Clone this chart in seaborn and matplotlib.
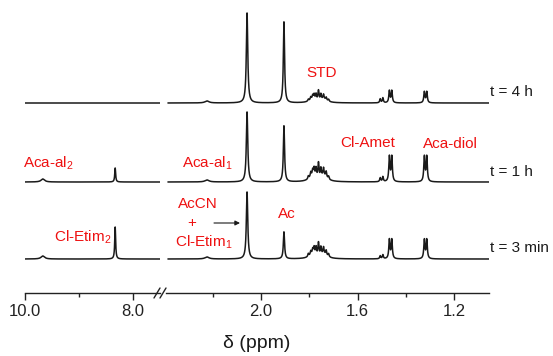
import numpy as np
import pandas as pd
import seaborn as sns
import matplotlib.pyplot as plt
from matplotlib.lines import Line2D

sns.set_style("white")
plt.rcParams['font.family'] = ['Liberation Sans', 'DejaVu Sans']
plt.rcParams['mathtext.default'] = 'regular'

# ---------------- data ----------------
trace_labels = ["t = 3 min", "t = 1 h", "t = 4 h"]
trace_baselines = [34, 111, 190]

# right segment (2.4 - 1.05 ppm): peak positions, half widths
right_ppm = [2.224, 2.058, 1.905,
             1.785, 1.740,
             1.804, 1.794, 1.786, 1.780, 1.772, 1.762, 1.752, 1.741, 1.730, 1.720,
             1.506, 1.495, 1.468, 1.458, 1.323, 1.313]
right_hwhm = [0.010, 0.0035, 0.003,
              0.018, 0.018,
              0.0025, 0.0025, 0.0025, 0.0025, 0.0025, 0.0025, 0.0025, 0.0025, 0.0025, 0.0025,
              0.0025, 0.0025, 0.0028, 0.0028, 0.0028, 0.0028]
right_heights_3min = [2, 67, 27, 4, 4, 3, 4, 5, 7, 8, 13, 8, 7, 5, 3, 3, 4, 19, 19, 19, 19]
right_heights_1h = [2, 70, 56, 5, 5, 3, 5, 6, 8, 9, 15, 9, 8, 6, 3, 4, 5, 25, 25, 25, 25]
right_heights_4h = [2, 90, 81, 3, 3, 2, 3, 4, 5, 6, 10, 6, 5, 3, 2, 4, 5, 12, 12, 11, 11]

# left segment (10.0 - 7.5 ppm)
left_ppm = [9.67, 8.33]
left_hwhm = [0.04, 0.010]
left_heights_3min = [3, 32]
left_heights_1h = [3, 14]
left_heights_4h = [0, 0]

left_ticks = [10.0, 8.0]
left_tick_labels = ["10.0", "8.0"]
left_minor = [9.0]
right_ticks = [2.0, 1.6, 1.2]
right_tick_labels = ["2.0", "1.6", "1.2"]
right_minor = [2.2, 1.8, 1.4]

right_heights = [right_heights_3min, right_heights_1h, right_heights_4h]
left_heights = [left_heights_3min, left_heights_1h, left_heights_4h]


def build(xgrid, ppm, hwhm, heights_list):
    frames = []
    for lab, base, hs in zip(trace_labels, trace_baselines, heights_list):
        y = np.full_like(xgrid, base, dtype=float)
        for p, w, h in zip(ppm, hwhm, hs):
            y += h / (1.0 + ((xgrid - p) / w) ** 2)
        frames.append(pd.DataFrame({"ppm": xgrid, "y": y, "trace": lab}))
    return pd.concat(frames, ignore_index=True)


xr = np.linspace(2.386, 1.055, 6000)
xl = np.linspace(10.0, 7.5, 2500)
df_right = build(xr, right_ppm, right_hwhm, right_heights)
df_left = build(xl, left_ppm, left_hwhm, left_heights)

W, H = 553, 356
fig = plt.figure(figsize=(W / 100, H / 100), dpi=100)
axL = fig.add_axes([25 / W, 63 / H, 135 / W, 288 / H])
axR = fig.add_axes([166 / W, 63 / H, 323 / W, 288 / H])

for ax, df in ((axL, df_left), (axR, df_right)):
    sns.lineplot(data=df, x="ppm", y="y", units="trace", estimator=None,
                 sort=False, color="#1a1a1a", lw=1.1, ax=ax, legend=False)
    ax.set_ylim(0, 288)
    ax.set_yticks([])
    ax.set_xlabel("")
    ax.set_ylabel("")
    for s in ("top", "left", "right"):
        ax.spines[s].set_visible(False)
    ax.spines["bottom"].set_linewidth(1.0)
    ax.spines["bottom"].set_color("#222222")
    ax.tick_params(axis="x", which="major", length=5, width=1.0, direction="out",
                   labelsize=12, pad=3, bottom=True, colors="#222222")
    ax.tick_params(axis="x", which="minor", length=3, width=1.0, direction="out",
                   bottom=True, colors="#222222")
    ax.patch.set_alpha(0)

axL.set_xlim(10.0, 7.5)
axL.set_xticks(left_ticks)
axL.set_xticklabels(left_tick_labels)
axL.set_xticks(left_minor, minor=True)
axR.set_xlim(2.394, 1.055)
axR.set_xticks(right_ticks)
axR.set_xticklabels(right_tick_labels)
axR.set_xticks(right_minor, minor=True)

# axis break marks
for x0 in (154, 160):
    fig.add_artist(Line2D([x0 / W, (x0 + 6) / W], [1 - 298 / H, 1 - 288 / H],
                          transform=fig.transFigure, color="#222222", lw=1.0))


def ftext(x, y, s, ha="left", color="#ee1111", size=11):
    fig.text(x / W, 1 - y / H, s, ha=ha, va="center", color=color, fontsize=size)


ftext(322, 73, "STD", ha="center")
ftext(23, 163, "Aca-al$_2$")
ftext(54, 237, "Cl-Etim$_2$")
ftext(182, 163, "Aca-al$_1$")
ftext(340, 143, "Cl-Amet")
ftext(423, 144, "Aca-diol")
ftext(198, 204, "AcCN", ha="center")
ftext(192, 223, "+", ha="center")
ftext(175, 242, "Cl-Etim$_1$")
ftext(278, 214, "Ac")

for lab, y in zip(trace_labels, [248, 172, 92]):
    ftext(490, y, lab, color="#1a1a1a", size=11)

fig.text(257 / W, 1 - 344 / H, "δ (ppm)", ha="center", va="center",
         fontsize=14, color="#1a1a1a")

axR.annotate("", xy=(240 / W, 1 - 223 / H), xytext=(214 / W, 1 - 223 / H),
             xycoords="figure fraction", textcoords="figure fraction",
             arrowprops=dict(arrowstyle="-|>", color="#1a1a1a", lw=0.8,
                             mutation_scale=7, shrinkA=0, shrinkB=0))

fig.savefig("out.png", dpi=100)
